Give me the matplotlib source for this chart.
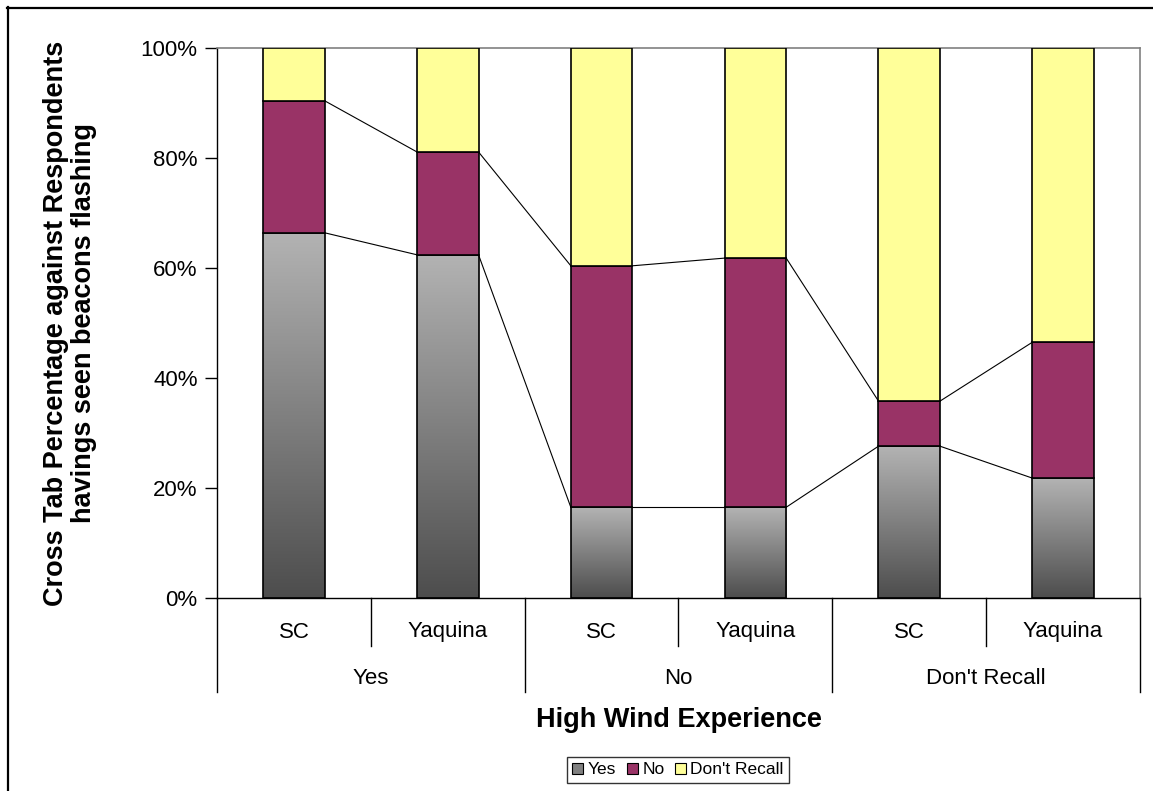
import numpy as np
import matplotlib
matplotlib.use("Agg")
import matplotlib.pyplot as plt
from matplotlib.patches import Patch
from matplotlib.lines import Line2D
from matplotlib.ticker import PercentFormatter
from matplotlib.colors import LinearSegmentedColormap
import matplotlib.transforms as mtransforms

plt.rcParams['font.family'] = ['Liberation Sans', 'DejaVu Sans']

# Data
groups = ["Yes", "No", "Don't Recall"]
sites = ["SC", "Yaquina"]
series = ["Yes", "No", "Don't Recall"]
seen_yes = [66.4, 62.4, 16.5, 16.5, 27.6, 21.8]
seen_no = [24.0, 18.7, 43.9, 45.3, 8.2, 24.7]
seen_dont_recall = [9.6, 18.9, 39.6, 38.2, 64.2, 53.5]

W, H = 1153, 791
fig = plt.figure(figsize=(W / 100, H / 100), dpi=100)
ax = fig.add_axes([217 / W, 1 - 598 / H, (1140 - 217) / W, 550 / H])

n = len(seen_yes)
x = np.arange(n)
width = 0.40
edge_kw = dict(edgecolor="black", linewidth=1.2)

yes = np.array(seen_yes)
no = np.array(seen_no)
dr = np.array(seen_dont_recall)

# Grey gradient for the "Yes" segments (light at top, dark at bottom)
grey_cmap = LinearSegmentedColormap.from_list("greys", ["#4d4d4d", "#b3b3b3"])
grad = np.linspace(0, 1, 256).reshape(-1, 1)
for xi, h in zip(x, yes):
    ax.imshow(grad, cmap=grey_cmap, origin="lower", aspect="auto",
              extent=[xi - width / 2, xi + width / 2, 0, h], zorder=2)
ax.bar(x, yes, width, facecolor="none", zorder=3, **edge_kw)
ax.bar(x, no, width, bottom=yes, color="#993366", zorder=3, **edge_kw)
ax.bar(x, dr, width, bottom=yes + no, color="#ffff99", zorder=3, **edge_kw)

# Series lines joining the segment tops of neighbouring bars
for level in (yes, yes + no):
    for i in range(n - 1):
        ax.plot([x[i] + width / 2, x[i + 1] - width / 2], [level[i], level[i + 1]],
                color="black", linewidth=0.8, zorder=4)

ax.set_xlim(-0.5, n - 0.5)
ax.set_ylim(0, 100)
ax.set_yticks(np.arange(0, 101, 20))
ax.yaxis.set_major_formatter(PercentFormatter(decimals=0))
ax.tick_params(axis="y", direction="out", length=9, width=1, pad=5, labelsize=16)
ax.tick_params(axis="x", bottom=False, labelbottom=False)
for side in ("top", "right"):
    ax.spines[side].set_color("#808080")
    ax.spines[side].set_linewidth(1.2)
ax.spines["left"].set_linewidth(1)
ax.spines["bottom"].set_linewidth(1)

# Two-level category axis
trans = mtransforms.blended_transform_factory(ax.transData, ax.transAxes)
inner_y = -48 / 550
outer_y = -94 / 550
for b in np.arange(-0.5, n, 1.0):
    bottom = outer_y if int(b + 0.5) % 2 == 0 else inner_y
    ax.add_line(Line2D([b, b], [0, bottom], transform=trans, color="black",
                       linewidth=1, clip_on=False))
for i in range(n):
    ax.text(x[i], -34 / 550, sites[i % 2], transform=trans, ha="center",
            va="center", fontsize=16)
for g, name in enumerate(groups):
    ax.text(2 * g + 0.5, -80 / 550, name, transform=trans, ha="center",
            va="center", fontsize=16)

fig.text(679 / W, 1 - 720 / H, "High Wind Experience", ha="center", va="center",
         fontsize=19.5, fontweight="bold")
fig.text(70 / W, 1 - 323 / H,
         "Cross Tab Percentage against Respondents\nhavings seen beacons flashing",
         ha="center", va="center", rotation=90, fontsize=19.5, fontweight="bold",
         multialignment="center", linespacing=1.12)

# Outer frame (top and left edges)
fig.add_artist(Line2D([7 / W, 1], [1 - 7.5 / H, 1 - 7.5 / H], transform=fig.transFigure,
                      color="black", linewidth=1.6))
fig.add_artist(Line2D([7.5 / W, 7.5 / W], [0, 1 - 7 / H], transform=fig.transFigure,
                      color="black", linewidth=1.6))

handles = [Patch(facecolor="#808080", edgecolor="black", linewidth=0.8),
           Patch(facecolor="#993366", edgecolor="black", linewidth=0.8),
           Patch(facecolor="#ffff99", edgecolor="black", linewidth=0.8)]
leg = fig.legend(handles, series, loc="center", bbox_to_anchor=(678 / W, 1 - 770 / H),
                 ncol=3, fontsize=12.5, frameon=True, fancybox=False, borderpad=0.3,
                 handlelength=0.65, handleheight=0.65, handletextpad=0.25,
                 columnspacing=0.6, borderaxespad=0)
leg.get_frame().set_edgecolor("black")
leg.get_frame().set_linewidth(1)

fig.savefig("out.png", dpi=100)
